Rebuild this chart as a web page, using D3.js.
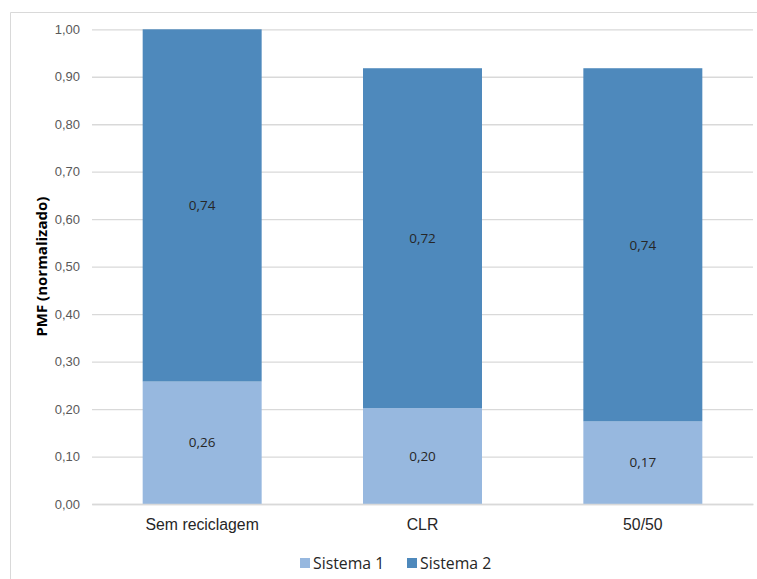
<!DOCTYPE html>
<html>
<head>
<meta charset="utf-8">
<script src="https://cdn.jsdelivr.net/npm/d3@7/dist/d3.min.js"></script>
<style>
  html, body { margin: 0; padding: 0; background: #fff; }
  svg { display: block; font-family: "Open Sans", Lato, sans-serif; }
</style>
</head>
<body>
<svg id="chart" width="757" height="579"></svg>
<script>
// Scenarios and normalised PMF per system (stacked)
const categories = ["Sem reciclagem", "CLR", "50/50"];
const sistema1 = [0.258, 0.202, 0.174];
const sistema2 = [0.742, 0.716, 0.744];
const seriesNames = ["Sistema 1", "Sistema 2"];
const yTicks = [0, 0.1, 0.2, 0.3, 0.4, 0.5, 0.6, 0.7, 0.8, 0.9, 1.0];
const colors = ["#97b8df", "#4e89bc"];

const svg = d3.select("#chart");
const W = 757, H = 579;
const margin = { left: 92, right: 4, top: 29.3, bottom: 75 };
const plotW = W - margin.left - margin.right;
const plotH = H - margin.top - margin.bottom;

const fmt = v => d3.format(".2f")(v).replace(".", ",");

// chart frame
svg.append("path")
  .attr("d", `M10.5,${H + 2} V12.5 H${W + 2}`)
  .attr("fill", "none")
  .attr("stroke", "#d9d9d9")
  .attr("stroke-width", 1);

const g = svg.append("g").attr("transform", `translate(${margin.left},${margin.top})`);

const x = d3.scaleBand().domain(categories).range([0, plotW]).paddingInner(0.46).paddingOuter(0.23);
const y = d3.scaleLinear().domain([0, 1]).range([plotH, 0]);

// gridlines + y tick labels
const yAxis = d3.axisLeft(y).tickValues(yTicks).tickSize(-plotW).tickPadding(12).tickFormat(fmt);
const ya = g.append("g").call(yAxis);
ya.select(".domain").remove();
ya.selectAll(".tick line").attr("stroke", "#d9d9d9").attr("stroke-width", 1.3);
ya.selectAll(".tick text").attr("fill", "#595959").style("font-size", "13px");

// stacked data
const rows = categories.map((c, i) => ({ cat: c, "Sistema 1": sistema1[i], "Sistema 2": sistema2[i] }));
const stacked = d3.stack().keys(seriesNames)(rows);

const layers = g.selectAll(".layer").data(stacked).join("g")
  .attr("class", "layer")
  .attr("fill", (d, i) => colors[i]);

layers.selectAll("rect").data(d => d).join("rect")
  .attr("x", d => x(d.data.cat))
  .attr("width", x.bandwidth())
  .attr("y", d => y(d[1]))
  .attr("height", d => y(d[0]) - y(d[1]));

// value labels centred in each segment
layers.selectAll("text").data(d => d.map(v => ({ v, key: d.key }))).join("text")
  .attr("x", d => x(d.v.data.cat) + x.bandwidth() / 2)
  .attr("y", d => y((d.v[0] + d.v[1]) / 2))
  .attr("dy", "0.35em")
  .attr("text-anchor", "middle")
  .attr("fill", "#262626")
  .style("font-size", "13.5px")
  .text(d => fmt(d.v.data[d.key]));

// x axis labels
const xa = g.append("g").attr("transform", `translate(0,${plotH})`)
  .call(d3.axisBottom(x).tickSize(0).tickPadding(15));
xa.select(".domain").attr("stroke", "#d9d9d9").attr("stroke-width", 1.3);
xa.selectAll(".tick text").attr("fill", "#262626").style("font-size", "15.8px");

// y axis title
svg.append("text")
  .attr("transform", `translate(42,${margin.top + plotH / 2}) rotate(-90)`)
  .attr("text-anchor", "middle")
  .attr("dy", "0.35em")
  .attr("fill", "#000")
  .style("font-size", "15px")
  .style("font-weight", "bold")
  .text("PMF (normalizado)");

// legend
const legend = svg.append("g").attr("transform", "translate(300,563)");
const legX = [0, 107];
seriesNames.forEach((name, i) => {
  const item = legend.append("g").attr("transform", `translate(${legX[i]},0)`);
  item.append("rect").attr("x", 0).attr("y", -5).attr("width", 10).attr("height", 10).attr("fill", colors[i]);
  item.append("text").attr("x", 13).attr("dy", "0.35em").attr("fill", "#262626")
    .style("font-size", "15.8px").text(name);
});
</script>
</body>
</html>
